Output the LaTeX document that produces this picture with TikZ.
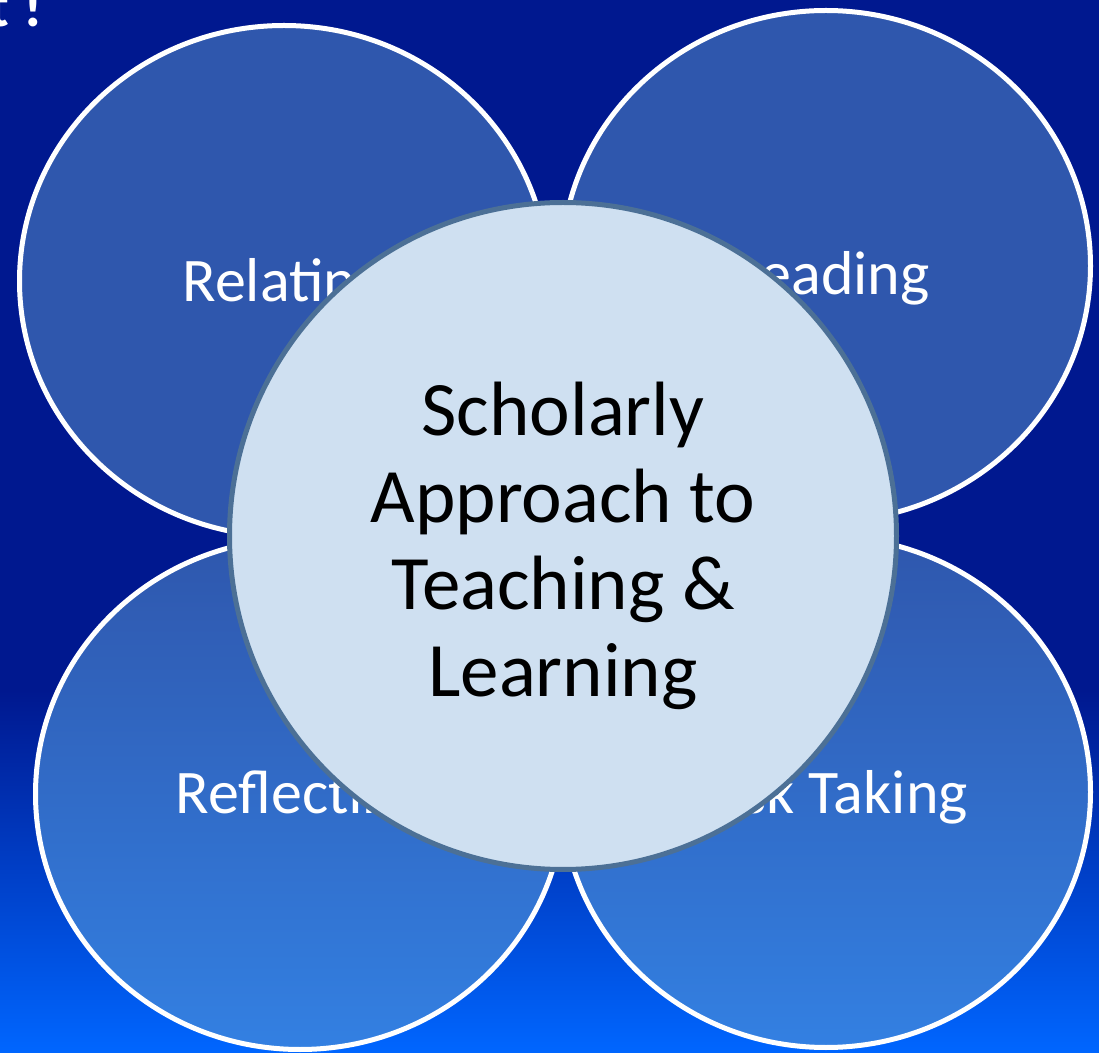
\documentclass[tikz,border=0pt]{standalone}
\usepackage{fontspec}
\setmainfont{Carlito}
\usepackage{tikz}
\usetikzlibrary{shapes.geometric, positioning, calc}
\definecolor{navy}{HTML}{00188F}
\definecolor{skyblue}{HTML}{0066FF}
\definecolor{petalblue}{HTML}{2F57AD}
\definecolor{petallight}{HTML}{3380E2}
\definecolor{hubfill}{HTML}{CFE0F1}
\definecolor{hubedge}{HTML}{4C7096}
\tikzset{
  petal/.style={shape=ellipse, draw=white, line width=2.5pt, fill=petalblue,
    inner sep=0pt, minimum width=264.5pt, minimum height=255.5pt}}
\tikzset{
  lowpetal/.style={petal, top color=petalblue, middle color=petalblue, bottom color=petallight}}
\tikzset{
  petallabel/.style={text=white, inner sep=0pt, font={\fontsize{31pt}{37pt}\selectfont}}}
\tikzset{
  hub/.style={shape=circle, draw=hubedge, line width=2.5pt, fill=hubfill,
    inner sep=0pt, minimum size=333.5pt}}
\tikzset{
  hubtext/.style={text=black, align=center, inner sep=0pt,
    font={\fontsize{38.5pt}{43.5pt}\selectfont}}}

\begin{document}
\begin{tikzpicture}[x=0.5pt, y=-0.5pt]
     %% background
     \path[fill=navy] (0,0) rectangle (1099,1053);
     \shade[top color=navy, bottom color=skyblue] (0,690) rectangle (1099,1053);
     \useasboundingbox (0,0) rectangle (1099,1053);

     \node[text=white, inner sep=0pt, anchor=base east,
       font={\fontsize{30pt}{36pt}\bfseries\selectfont}] (title) at (43,27) {t !};

     %% four petals
     \node[petal] (relate) at (284,281) {};
     \node[petal] (lead) at (826,266) {};
     \node[lowpetal] (reflect) at (300,794) {};
     \node[lowpetal] (risk) at (826,792) {};

     \node[petallabel, anchor=base] (relatetxt) at (284,302) {Relating};
     \node[petallabel, anchor=base] (leadtxt) at (832,295) {Leading};
     \node[petallabel, anchor=base] (reflecttxt) at (300,813) {Reflecting};
     \node[petallabel, anchor=base] (risktxt) at (831,813) {Risk Taking};

     %% hub on top
     \node[hub] (hub) at (563,536) {};
     \node[hubtext] (hubtxt) at (563,546) {Scholarly\\Approach to\\Teaching \&\\Learning};
\end{tikzpicture}
\end{document}
